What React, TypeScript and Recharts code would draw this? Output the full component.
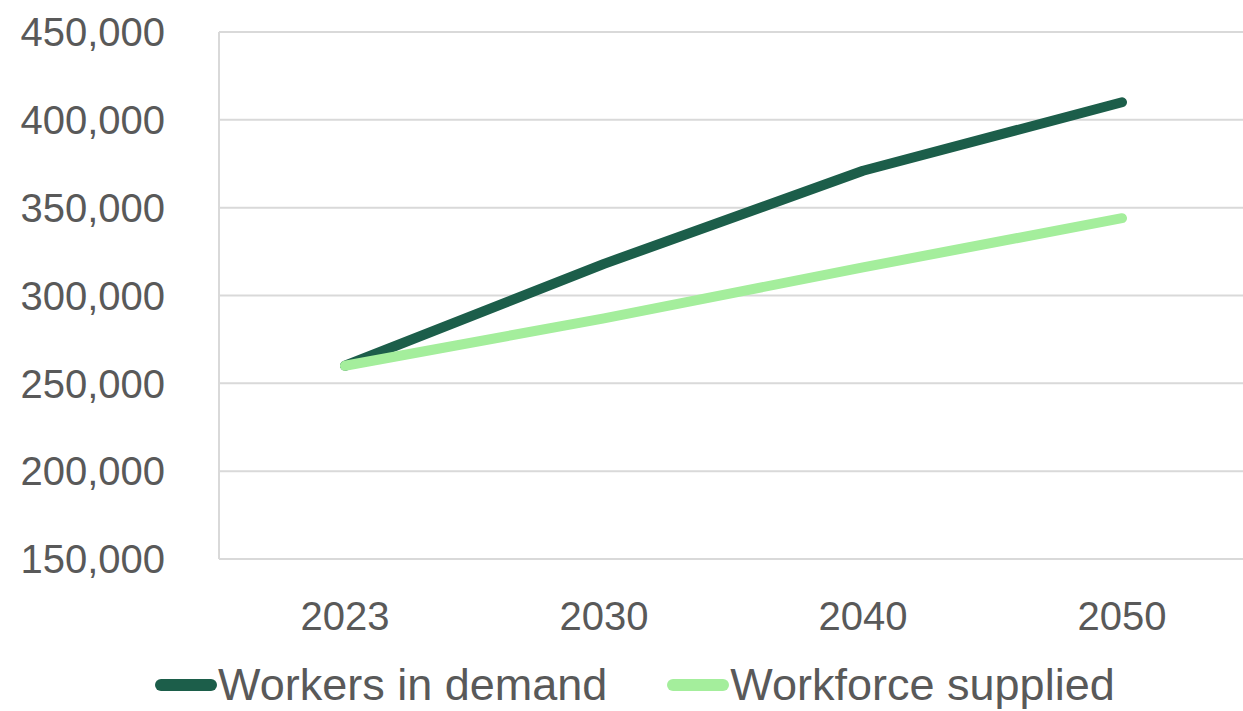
import React from 'react';
import { LineChart, Line, XAxis, YAxis, CartesianGrid } from 'recharts';

const years = ['2023', '2030', '2040', '2050'];
const workersInDemand = [260000, 318000, 371000, 410000];
const workforceSupplied = [260000, 287000, 316000, 344000];
const yTicks = [150000, 200000, 250000, 300000, 350000, 400000, 450000];

const DARK = '#1c5e4a';
const LIGHT = '#a4ee9c';
const TEXT = '#595959';
const FONT = '"Liberation Sans", Arial, Helvetica, sans-serif';

const data = years.map((y, i) => ({
  year: y,
  demand: workersInDemand[i],
  supplied: workforceSupplied[i],
}));

const fmt = (v: number) => v.toLocaleString('en-US');

export default function App() {
  return (
    <div style={{ position: 'absolute', left: 0, top: 0, width: 1243, height: 711, background: '#fff', overflow: 'hidden', fontFamily: FONT }}>
      <LineChart width={1243} height={711} data={data} margin={{ top: 32, right: 0, bottom: 92, left: 0 }}>
        <CartesianGrid vertical={false} stroke="#d9d9d9" strokeWidth={2} />
        <XAxis
          dataKey="year"
          axisLine={false}
          tickLine={false}
          tickSize={0}
          tickMargin={43}
          height={60}
          padding={{ left: 126, right: 121 }}
          interval={0}
          tick={{ fill: TEXT, fontSize: 40, fontFamily: FONT }}
        />
        <YAxis
          domain={[150000, 450000]}
          ticks={yTicks}
          tickFormatter={fmt}
          width={219}
          axisLine={{ stroke: '#d9d9d9', strokeWidth: 2 }}
          tickLine={false}
          tickSize={0}
          tickMargin={54}
          interval={0}
          tick={{ fill: TEXT, fontSize: 40, fontFamily: FONT }}
        />
        <Line
          type="linear"
          dataKey="demand"
          stroke={DARK}
          strokeWidth={10}
          strokeLinecap="round"
          strokeLinejoin="round"
          dot={false}
          activeDot={false}
          isAnimationActive={false}
        />
        <Line
          type="linear"
          dataKey="supplied"
          stroke={LIGHT}
          strokeWidth={10}
          strokeLinecap="round"
          strokeLinejoin="round"
          dot={false}
          activeDot={false}
          isAnimationActive={false}
        />
      </LineChart>
      <div style={{ position: 'absolute', left: 155, top: 660, display: 'flex', alignItems: 'center', fontSize: 45, color: TEXT, lineHeight: '50px', height: 50, whiteSpace: 'nowrap' }}>
        <span style={{ display: 'inline-block', width: 62, height: 12, borderRadius: 6, background: DARK, marginRight: 1 }} />
        <span>Workers in demand</span>
        <span style={{ display: 'inline-block', width: 62, height: 12, borderRadius: 6, background: LIGHT, marginLeft: 60, marginRight: 1 }} />
        <span>Workforce supplied</span>
      </div>
    </div>
  );
}
